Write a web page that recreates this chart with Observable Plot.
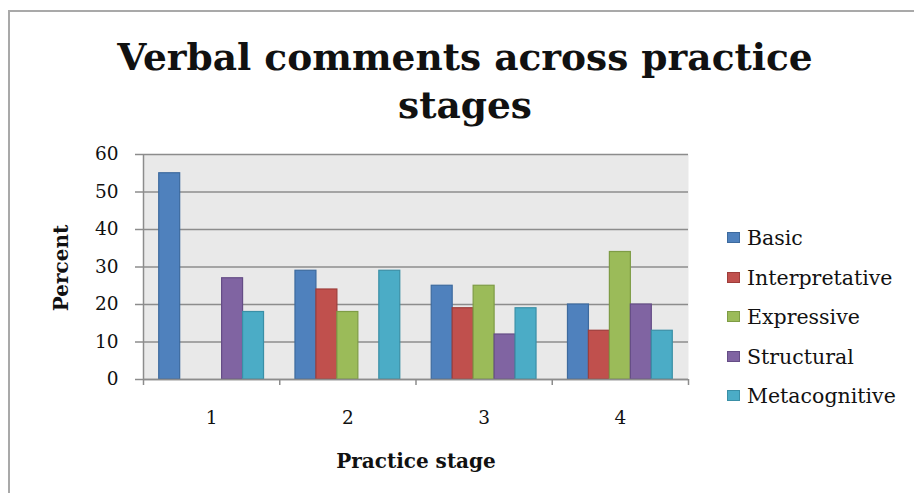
<!DOCTYPE html>
<html>
<head>
<meta charset="utf-8">
<script src="https://cdn.jsdelivr.net/npm/d3@7"></script>
<script src="https://cdn.jsdelivr.net/npm/@observablehq/plot@0.6"></script>
<style>
  html, body { margin: 0; padding: 0; background: #fff; }
  #chart { position: relative; width: 914px; height: 493px; overflow: hidden; font-family: "DejaVu Serif", serif; color: #111; }
  #border { position: absolute; left: 8px; top: 10px; width: 1000px; height: 1000px; border: 2px solid #a9a9a9; box-sizing: border-box; }
  #title { position: absolute; left: 8px; width: 914px; top: 33px; text-align: center; font-family: "DejaVu Serif", serif; font-weight: bold; font-size: 37.5px; line-height: 48px; }
  #plot { position: absolute; left: 0; top: 0; }
  #legend { position: absolute; left: 727px; top: 225px; }
  .item { position: relative; height: 39.5px; white-space: nowrap; }
  .sw { position: absolute; left: 0; top: 7px; width: 13px; height: 11px; box-sizing: border-box; border: 1px solid; }
  .lab { position: absolute; left: 20px; top: 0; line-height: 26px; font-family: "DejaVu Serif", serif; font-size: 20.5px; }
  .axlab { position: absolute; font-family: "DejaVu Serif", serif; font-weight: bold; font-size: 20px; line-height: 24px; white-space: nowrap; transform: translate(-50%, -50%); }
</style>
</head>
<body>
<div id="chart">
  <div id="border"></div>
  <div id="plot"></div>
  <div id="title">Verbal comments across practice<br>stages</div>
  <div id="legend"></div>
  <div class="axlab" id="ylab" style="left:61px; top:268px; transform: translate(-50%, -50%) rotate(-90deg);"></div>
  <div class="axlab" id="xlab" style="left:416px; top:461px;"></div>
</div>
<script>
// Practice stages and comment categories
const stages = [1, 2, 3, 4];
const series = ["Basic", "Interpretative", "Expressive", "Structural", "Metacognitive"];

// Percent of verbal comments per stage, one array per category
const basic = [55, 29, 25, 20];
const interpretative = [0, 24, 19, 13];
const expressive = [0, 18, 25, 34];
const structural = [27, 0, 12, 20];
const metacognitive = [18, 29, 19, 13];

const fills = ["#4f81bd", "#c0504d", "#9bbb59", "#8064a2", "#4bacc6"];
const strokes = ["#3d6a9e", "#9e3d3a", "#7e9c45", "#654d86", "#3a8fa6"];

const yTicks = [0, 10, 20, 30, 40, 50, 60];
const xLabel = "Practice stage";
const yLabel = "Percent";

const values = [basic, interpretative, expressive, structural, metacognitive];

// Clustered bars: five bars per stage, gap of 1.5 bar widths between clusters
const barW = 1 / 6.5;
const rows = [];
series.forEach((s, i) => {
  stages.forEach((st, j) => {
    const v = values[i][j];
    if (v > 0) {
      const x1 = st - 2.5 * barW + i * barW;
      rows.push({stage: st, series: s, value: v, x1, x2: x1 + barW});
    }
  });
});
const separators = [0.5, 1.5, 2.5, 3.5, 4.5];

const plot = Plot.plot({
  width: 914,
  height: 493,
  marginTop: 154,
  marginBottom: 114,
  marginLeft: 143,
  marginRight: 226,
  x: {domain: [0.5, 4.5], axis: null},
  y: {domain: [0, 60], axis: null},
  color: {domain: series, range: fills},
  style: {fontFamily: "DejaVu Serif", background: "transparent", overflow: "visible"},
  marks: [
    Plot.frame({fill: "#e9e9e9", stroke: null}),
    Plot.gridY(yTicks, {stroke: "#8c8c8c", strokeOpacity: 1, strokeWidth: 1.5}),
    Plot.rectY(rows, {
      x1: "x1", x2: "x2", y: "value",
      fill: "series",
      stroke: d => strokes[series.indexOf(d.series)],
      strokeWidth: 1.2
    }),
    Plot.ruleX([0.5], {stroke: "#8c8c8c", strokeWidth: 1.5}),
    Plot.ruleY([0], {stroke: "#8c8c8c", strokeWidth: 1.5}),
    Plot.axisY({ticks: yTicks, tickSize: 8, tickPadding: 17, stroke: "#8c8c8c", strokeWidth: 1.5, fill: "#111", fontSize: 18.5, label: null}),
    Plot.axisX({ticks: separators, tickSize: 6, tickFormat: () => "", stroke: "#8c8c8c", strokeWidth: 1.5, label: null}),
    Plot.axisX({ticks: stages, tickSize: 0, tickPadding: 31, tickFormat: d => String(d), fill: "#111", fontSize: 18.5, label: null})
  ]
});
document.getElementById("plot").appendChild(plot);

document.getElementById("ylab").textContent = yLabel;
document.getElementById("xlab").textContent = xLabel;

// Legend listing the categories top to bottom
const legend = document.getElementById("legend");
series.forEach((s, i) => {
  const item = document.createElement("div");
  item.className = "item";
  item.innerHTML = `<span class="sw" style="background:${fills[i]};border-color:${strokes[i]}"></span><span class="lab">${s}</span>`;
  legend.appendChild(item);
});
</script>
</body>
</html>
